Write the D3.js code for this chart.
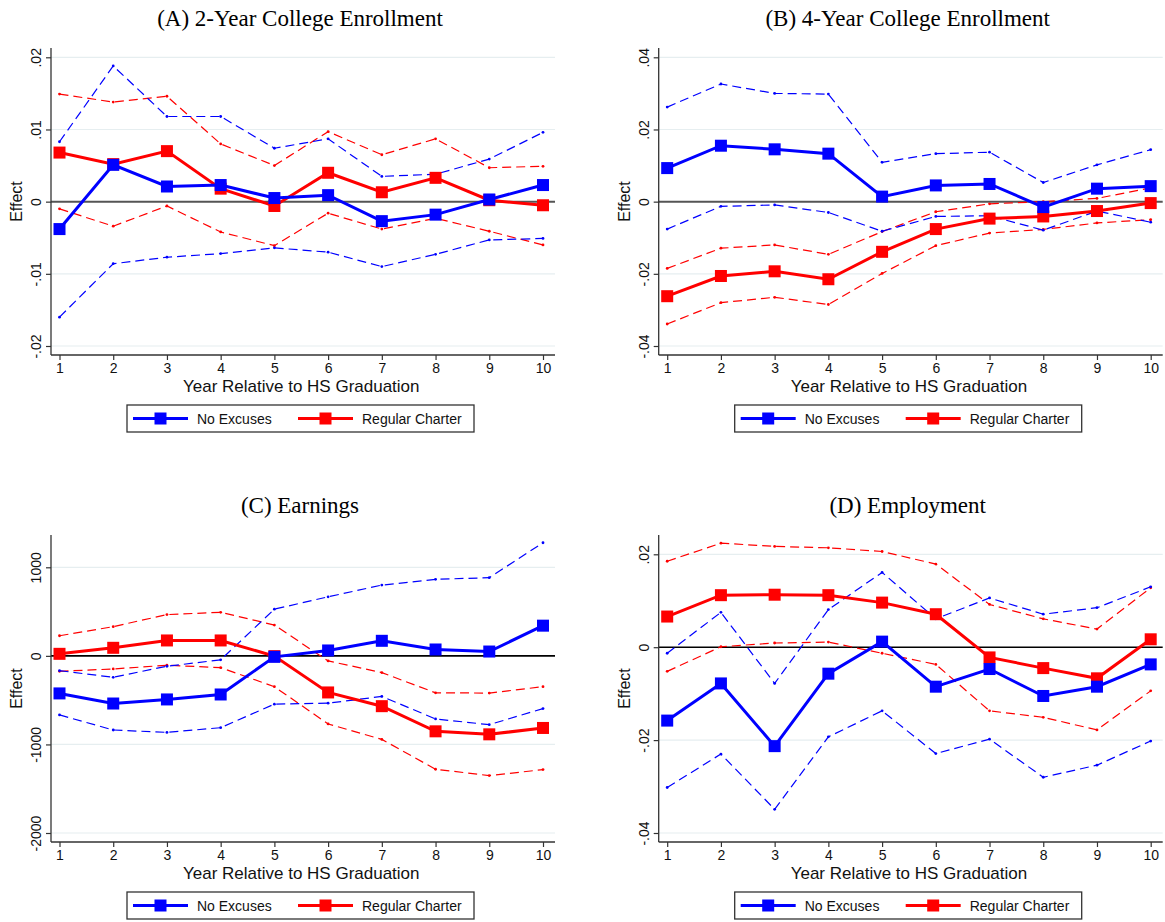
<!DOCTYPE html>
<html>
<head>
<meta charset="utf-8">
<script src="https://cdn.jsdelivr.net/npm/d3@7"></script>
<style>
  html, body { margin: 0; padding: 0; background: #fff; }
  svg { display: block; }
</style>
</head>
<body>
<svg id="chart" width="1165" height="922"></svg>
<script>
// Event-study estimates by year relative to high-school graduation
const years = [1, 2, 3, 4, 5, 6, 7, 8, 9, 10];
const seriesNames = ["No Excuses", "Regular Charter"];
const xAxisTitle = "Year Relative to HS Graduation";
const yAxisTitle = "Effect";

// (A) 2-Year College Enrollment
const enroll2Title = "(A) 2-Year College Enrollment";
const enroll2Ticks = [-0.02, -0.01, 0, 0.01, 0.02];
const enroll2TickLabels = ["-.02", "-.01", "0", ".01", ".02"];
const enroll2NoExc   = [-0.0038, 0.0051, 0.0021, 0.0023, 0.0005, 0.0009, -0.0027, -0.0018, 0.0003, 0.0023];
const enroll2NoExcHi = [0.0083, 0.0188, 0.0118, 0.0118, 0.0074, 0.0087, 0.0035, 0.0038, 0.0059, 0.0096];
const enroll2NoExcLo = [-0.0160, -0.0086, -0.0077, -0.0072, -0.0064, -0.0070, -0.0090, -0.0073, -0.0053, -0.0051];
const enroll2Reg     = [0.0068, 0.0052, 0.0070, 0.0018, -0.0006, 0.0040, 0.0013, 0.0033, 0.0002, -0.0005];
const enroll2RegHi   = [0.0149, 0.0138, 0.0146, 0.0080, 0.0050, 0.0097, 0.0065, 0.0087, 0.0047, 0.0049];
const enroll2RegLo   = [-0.0010, -0.0034, -0.0006, -0.0042, -0.0061, -0.0016, -0.0038, -0.0023, -0.0041, -0.0060];

// (B) 4-Year College Enrollment
const enroll4Title = "(B) 4-Year College Enrollment";
const enroll4Ticks = [-0.04, -0.02, 0, 0.02, 0.04];
const enroll4TickLabels = ["-.04", "-.02", "0", ".02", ".04"];
const enroll4NoExc   = [0.0093, 0.0155, 0.0145, 0.0133, 0.0014, 0.0045, 0.0049, -0.0015, 0.0036, 0.0043];
const enroll4NoExcHi = [0.0262, 0.0326, 0.0300, 0.0298, 0.0109, 0.0133, 0.0137, 0.0053, 0.0102, 0.0144];
const enroll4NoExcLo = [-0.0076, -0.0013, -0.0009, -0.0030, -0.0082, -0.0041, -0.0039, -0.0079, -0.0026, -0.0057];
const enroll4Reg     = [-0.0262, -0.0206, -0.0193, -0.0215, -0.0139, -0.0076, -0.0047, -0.0041, -0.0026, -0.0004];
const enroll4RegHi   = [-0.0185, -0.0129, -0.0120, -0.0146, -0.0083, -0.0028, -0.0006, 0.0000, 0.0009, 0.0038];
const enroll4RegLo   = [-0.0339, -0.0280, -0.0265, -0.0285, -0.0199, -0.0122, -0.0087, -0.0077, -0.0059, -0.0050];

// (C) Earnings
const earnTitle = "(C) Earnings";
const earnTicks = [-2000, -1000, 0, 1000];
const earnTickLabels = ["-2000", "-1000", "0", "1000"];
const earnNoExc   = [-424, -538, -492, -436, -11, 61, 170, 72, 49, 341];
const earnNoExcHi = [-167, -242, -117, -45, 527, 667, 799, 864, 883, 1277];
const earnNoExcLo = [-667, -837, -864, -811, -545, -534, -458, -712, -777, -595];
const earnReg     = [23, 91, 174, 174, -3, -413, -568, -852, -886, -814];
const earnRegHi   = [227, 330, 466, 492, 348, -57, -189, -417, -420, -348];
const earnRegLo   = [-174, -148, -106, -133, -348, -769, -943, -1280, -1352, -1284];

// (D) Employment
const employTitle = "(D) Employment";
const employTicks = [-0.04, -0.02, 0, 0.02];
const employTickLabels = ["-.04", "-.02", "0", ".02"];
const employNoExc   = [-0.0158, -0.0078, -0.0213, -0.0057, 0.0012, -0.0085, -0.0047, -0.0105, -0.0085, -0.0037];
const employNoExcHi = [-0.0013, 0.0075, -0.0078, 0.0081, 0.0161, 0.0061, 0.0106, 0.0071, 0.0085, 0.0130];
const employNoExcLo = [-0.0302, -0.0230, -0.0349, -0.0193, -0.0137, -0.0229, -0.0198, -0.0280, -0.0254, -0.0202];
const employReg     = [0.0066, 0.0112, 0.0113, 0.0112, 0.0096, 0.0071, -0.0022, -0.0045, -0.0067, 0.0017];
const employRegHi   = [0.0185, 0.0224, 0.0217, 0.0214, 0.0206, 0.0179, 0.0092, 0.0061, 0.0039, 0.0128];
const employRegLo   = [-0.0052, 0.0001, 0.0009, 0.0011, -0.0013, -0.0037, -0.0137, -0.0151, -0.0178, -0.0094];

// Panel setup built from the arrays above
const panels = [
  { title: enroll2Title, ticks: enroll2Ticks, labels: enroll2TickLabels,
    noExc: [enroll2NoExc, enroll2NoExcLo, enroll2NoExcHi], reg: [enroll2Reg, enroll2RegLo, enroll2RegHi],
    ox: 51, oy: 48, topPad: 9.3, zeroStyle: "gray" },
  { title: enroll4Title, ticks: enroll4Ticks, labels: enroll4TickLabels,
    noExc: [enroll4NoExc, enroll4NoExcLo, enroll4NoExcHi], reg: [enroll4Reg, enroll4RegLo, enroll4RegHi],
    ox: 658.7, oy: 48, topPad: 9.3, zeroStyle: "gray" },
  { title: earnTitle, ticks: earnTicks, labels: earnTickLabels,
    noExc: [earnNoExc, earnNoExcLo, earnNoExcHi], reg: [earnReg, earnRegLo, earnRegHi],
    ox: 51, oy: 535, topPad: 32.3, zeroStyle: "black" },
  { title: employTitle, ticks: employTicks, labels: employTickLabels,
    noExc: [employNoExc, employNoExcLo, employNoExcHi], reg: [employReg, employRegLo, employRegHi],
    ox: 658.7, oy: 535, topPad: 19.3, zeroStyle: "black" }
];

const W = 504, H = 307;   // plot area size
const BLUE = "#0000ff", RED = "#ff0000";
const sans = "'Liberation Sans', Arial, Helvetica, sans-serif";
const serif = "'Liberation Serif', 'Times New Roman', serif";

const svg = d3.select("#chart");

panels.forEach(p => {
  const g = svg.append("g").attr("transform", `translate(${p.ox},${p.oy})`);

  const x = d3.scaleLinear().domain([1, 10]).range([8.5, W - 12]);
  const y = d3.scaleLinear()
    .domain([d3.min(p.ticks), d3.max(p.ticks)])
    .range([H - 9, p.topPad]);

  // Panel title
  svg.append("text")
    .attr("x", p.ox + W / 2 - 3)
    .attr("y", p.oy - 22)
    .attr("text-anchor", "middle")
    .attr("font-family", serif)
    .attr("font-size", 23)
    .attr("fill", "#000")
    .text(p.title);

  // Gridlines
  g.selectAll("line.grid")
    .data(p.ticks.filter(t => t !== 0))
    .join("line")
    .attr("class", "grid")
    .attr("x1", 0).attr("x2", W)
    .attr("y1", d => y(d)).attr("y2", d => y(d))
    .attr("stroke", "#e6eef0")
    .attr("stroke-width", 1.2);

  // Zero reference line
  g.append("line")
    .attr("x1", 0).attr("x2", W)
    .attr("y1", y(0)).attr("y2", y(0))
    .attr("stroke", p.zeroStyle === "gray" ? "#555" : "#000")
    .attr("stroke-width", p.zeroStyle === "gray" ? 2 : 1.6);

  // Y axis with rotated tick labels
  const yAxis = d3.axisLeft(y)
    .tickValues(p.ticks)
    .tickFormat((d, i) => p.labels[i])
    .tickSize(5);
  const ya = g.append("g").call(yAxis);
  ya.select(".domain").attr("d", `M0,0V${H}`).attr("stroke", "#333").attr("stroke-width", 1.3);
  ya.selectAll(".tick line").attr("stroke", "#333").attr("stroke-width", 1.2);
  ya.selectAll(".tick text")
    .attr("font-family", sans)
    .attr("font-size", 14)
    .attr("fill", "#111")
    .attr("text-anchor", "middle")
    .attr("x", 0).attr("y", 0).attr("dy", 0)
    .attr("transform", "translate(-10,0) rotate(-90)");

  // X axis
  const xAxis = d3.axisBottom(x)
    .tickValues(years)
    .tickFormat(d3.format("d"))
    .tickSize(5)
    .tickPadding(3);
  const xa = g.append("g").attr("transform", `translate(0,${H})`).call(xAxis);
  xa.select(".domain").attr("d", `M0,0H${W}`).attr("stroke", "#333").attr("stroke-width", 1.3);
  xa.selectAll(".tick line").attr("stroke", "#333").attr("stroke-width", 1.2);
  xa.selectAll(".tick text")
    .attr("font-family", sans)
    .attr("font-size", 14)
    .attr("fill", "#111");

  // Axis titles
  g.append("text")
    .attr("x", x(5.5))
    .attr("y", H + 37)
    .attr("text-anchor", "middle")
    .attr("font-family", sans)
    .attr("font-size", 17)
    .attr("fill", "#111")
    .text(xAxisTitle);
  g.append("text")
    .attr("transform", `translate(${-29},${H / 2}) rotate(-90)`)
    .attr("text-anchor", "middle")
    .attr("font-family", sans)
    .attr("font-size", 16)
    .attr("fill", "#111")
    .text(yAxisTitle);

  const line = d3.line().x((d, i) => x(years[i])).y(d => y(d));

  // Confidence bounds (dashed), then point estimates (solid with squares)
  const groups = [
    { vals: p.reg, color: RED },
    { vals: p.noExc, color: BLUE }
  ];
  groups.forEach(s => {
    [s.vals[1], s.vals[2]].forEach(b => {
      g.append("path")
        .datum(b)
        .attr("d", line)
        .attr("fill", "none")
        .attr("stroke", s.color)
        .attr("stroke-width", 1.2)
        .attr("stroke-dasharray", "9,5");
      g.selectAll(null)
        .data(b)
        .join("circle")
        .attr("cx", (d, i) => x(years[i]))
        .attr("cy", d => y(d))
        .attr("r", 1.4)
        .attr("fill", s.color);
    });
  });
  groups.forEach(s => {
    g.append("path")
      .datum(s.vals[0])
      .attr("d", line)
      .attr("fill", "none")
      .attr("stroke", s.color)
      .attr("stroke-width", 3);
    g.selectAll(null)
      .data(s.vals[0])
      .join("rect")
      .attr("x", (d, i) => x(years[i]) - 6)
      .attr("y", d => y(d) - 6)
      .attr("width", 12)
      .attr("height", 12)
      .attr("fill", s.color);
  });

  // Legend
  const lg = svg.append("g").attr("transform", `translate(${p.ox + 76},${p.oy + 357})`);
  lg.append("rect")
    .attr("x", 0).attr("y", 0)
    .attr("width", 347).attr("height", 27)
    .attr("fill", "#fff")
    .attr("stroke", "#333")
    .attr("stroke-width", 1.3);
  const items = [
    { name: seriesNames[0], color: BLUE, x0: 6 },
    { name: seriesNames[1], color: RED, x0: 171 }
  ];
  items.forEach(it => {
    lg.append("line")
      .attr("x1", it.x0).attr("x2", it.x0 + 55)
      .attr("y1", 13.5).attr("y2", 13.5)
      .attr("stroke", it.color)
      .attr("stroke-width", 3);
    lg.append("rect")
      .attr("x", it.x0 + 27.5 - 6).attr("y", 13.5 - 6)
      .attr("width", 12).attr("height", 12)
      .attr("fill", it.color);
    lg.append("text")
      .attr("x", it.x0 + 64)
      .attr("y", 18.5)
      .attr("font-family", sans)
      .attr("font-size", 14)
      .attr("fill", "#111")
      .text(it.name);
  });
});
</script>
</body>
</html>
